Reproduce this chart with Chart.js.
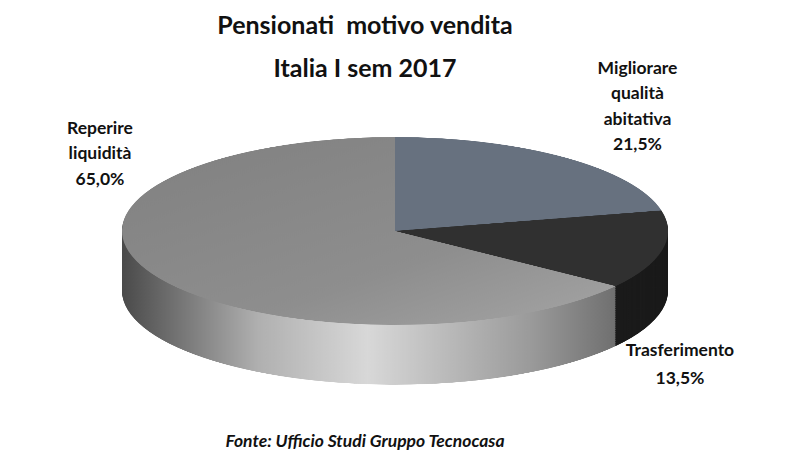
<!DOCTYPE html>
<html><head><meta charset="utf-8">
<script src="https://cdn.jsdelivr.net/npm/chart.js@4"></script>
<style>
body{margin:0;width:800px;height:475px;background:#fff;position:relative;overflow:hidden;font-family:Lato,"Liberation Sans",sans-serif;}
.t{position:absolute;font-weight:bold;color:#111;text-align:center;line-height:1.45;}
#wrap{position:absolute;left:122px;top:137px;width:546px;height:726px;transform:scaleY(0.344);transform-origin:0 0;}
</style></head><body>
<div class="t" style="left:165px;top:3px;width:400px;font-size:25px;line-height:43px">Pensionati&nbsp; motivo vendita<br>Italia I sem 2017</div>
<div class="t" style="left:20px;top:115px;width:160px;font-size:17.5px">Reperire<br>liquidità<br>65,0%</div>
<div class="t" style="left:550px;top:55px;width:175px;font-size:17.5px">Migliorare<br>qualità<br>abitativa<br>21,5%</div>
<div class="t" style="left:600px;top:336px;width:160px;font-size:17.5px;line-height:1.6">Trasferimento<br>13,5%</div>
<div class="t" style="left:165px;top:428px;width:400px;font-size:17.5px;font-style:italic">Fonte: Ufficio Studi Gruppo Tecnocasa</div>
<div id="wrap"><canvas id="c" width="546" height="726"></canvas></div>
<script>
const categories = ["Migliorare qualità abitativa","Trasferimento","Reperire liquidità"];
const values = [21.5, 13.5, 65.0];
const topColors = ["#67717f","#303030","#8c8c8c"];
const sideColors = ["#3e444d","#1b1b1b","#777777"];
const DEPTH = 174;
const extrude = {
  id:'extrude',
  beforeDatasetsDraw(chart){
    const ctx = chart.ctx, meta = chart.getDatasetMeta(0);
    const ca = chart.chartArea;
    meta.data.forEach((a,i)=>{
      let fill = sideColors[i];
      if(i===2){
        const g = ctx.createLinearGradient(ca.left,0,ca.right,0);
        g.addColorStop(0,'#4a4a4a');g.addColorStop(0.25,'#b0b0b0');g.addColorStop(0.45,'#d8d8d8');
        g.addColorStop(0.75,'#9a9a9a');g.addColorStop(1,'#555');
        fill = g;
      }
      ctx.save();ctx.fillStyle = fill;
      for(let off=DEPTH; off>0; off-=2){
        ctx.beginPath();ctx.moveTo(a.x,a.y+off);
        ctx.arc(a.x,a.y+off,a.outerRadius,a.startAngle,a.endAngle);
        ctx.closePath();ctx.fill();
      }
      ctx.restore();
    });
  }
};
const grayTop = (context)=>{
  const c = context.chart, ca = c.chartArea;
  if(!ca) return '#8c8c8c';
  const g = c.ctx.createLinearGradient(ca.left,ca.top,ca.right,ca.bottom);
  g.addColorStop(0,'#808080');g.addColorStop(0.6,'#8e8e8e');g.addColorStop(1,'#a8a8a8');
  return g;
};
new Chart(document.getElementById('c'),{
  type:'pie',
  data:{labels:categories,datasets:[{data:values,
    backgroundColor:(ctx)=> ctx.dataIndex===2 ? grayTop(ctx) : topColors[ctx.dataIndex],borderWidth:0}]},
  options:{responsive:false,animation:false,layout:{padding:{bottom:180}},
    plugins:{legend:{display:false},tooltip:{enabled:false}}},
  plugins:[extrude]
});
</script>
</body></html>
